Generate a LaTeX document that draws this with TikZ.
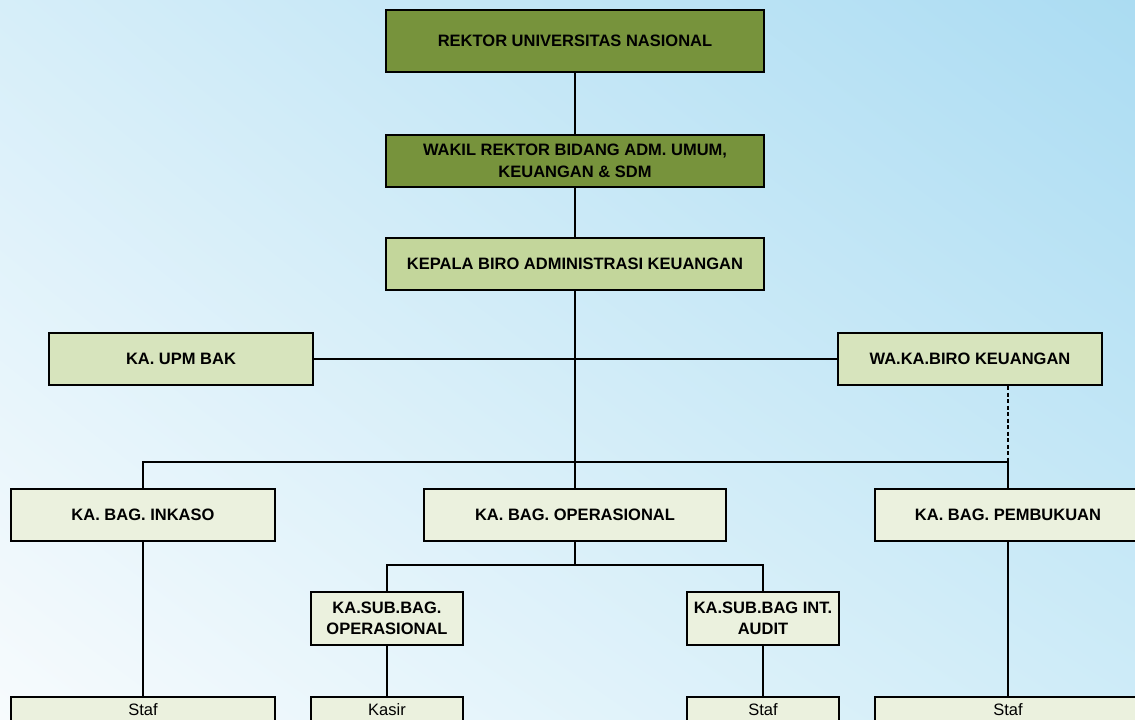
\documentclass[tikz,border=0pt]{standalone}
\usepackage{fontspec}
\setmainfont{Liberation Sans}
\usetikzlibrary{shadings}
\definecolor{olive}{HTML}{77933C}
\definecolor{midgreen}{HTML}{C3D69B}
\definecolor{lightgreen}{HTML}{D7E4BD}
\definecolor{palegreen}{HTML}{EBF1DE}
\definecolor{bgUL}{HTML}{D6EEF9}
\definecolor{bgUR}{HTML}{ABDCF2}
\definecolor{bgLL}{HTML}{F7FBFD}
\definecolor{bgLR}{HTML}{CFECF8}
\tikzset{
  box/.style={draw=black, line width=2pt, rectangle, align=center, inner sep=2pt,
    font=\fontsize{16.5}{21.5}\selectfont\bfseries},
  topbox/.style={box, fill=olive},
  midbox/.style={box, fill=midgreen},
  lightbox/.style={box, fill=lightgreen},
  palebox/.style={box, fill=palegreen},
  stafbox/.style={draw=black, line width=2pt, rectangle, fill=palegreen, anchor=north,
    inner xsep=2pt, inner ysep=4pt, text height=14pt, text depth=40pt,
    font=\fontsize{16.5}{20}\selectfont},
  conn/.style={draw=black, line width=2pt},
}
\begin{document}
\begin{tikzpicture}[x=1pt, y=-1pt]
\useasboundingbox (0,0) rectangle (1135,720);
\clip (0,0) rectangle (1135,720);
\shade[upper left=bgUL, upper right=bgUR, lower left=bgLL, lower right=bgLR] (0,0) rectangle (1135,720);

% nodes
\node[topbox, minimum width=378pt, minimum height=62pt] (rektor) at (575,41) {REKTOR UNIVERSITAS NASIONAL};
\node[topbox, minimum width=378pt, minimum height=52pt] (wakil) at (575,161) {WAKIL REKTOR BIDANG ADM. UMUM,\\KEUANGAN \& SDM};
\node[midbox, minimum width=378pt, minimum height=52pt] (kepala) at (575,264) {KEPALA BIRO ADMINISTRASI KEUANGAN};
\node[lightbox, minimum width=264pt, minimum height=52pt] (upm) at (181,359) {KA. UPM BAK};
\node[lightbox, minimum width=264pt, minimum height=52pt] (waka) at (970,359) {WA.KA.BIRO KEUANGAN};
\node[palebox, minimum width=264pt, minimum height=52pt] (inkaso) at (143,515) {KA. BAG. INKASO};
\node[palebox, minimum width=302pt, minimum height=52pt] (oper) at (575,515) {KA. BAG. OPERASIONAL};
\node[palebox, minimum width=266pt, minimum height=52pt] (pemb) at (1008,515) {KA. BAG. PEMBUKUAN};
\node[palebox, minimum width=152pt, minimum height=53pt] (subop) at (387,618.5) {KA.SUB.BAG.\\OPERASIONAL};
\node[palebox, minimum width=152pt, minimum height=53pt, inner xsep=0pt] (audit) at (763,618.5) {KA.SUB.BAG INT.\\AUDIT};
\node[stafbox, minimum width=264pt] (staf1) at (143,696) {Staf};
\node[stafbox, minimum width=152pt] (kasir) at (387,696) {Kasir};
\node[stafbox, minimum width=152pt] (staf2) at (763,696) {Staf};
\node[stafbox, minimum width=266pt] (staf3) at (1008,696) {Staf};

\coordinate (busR) at (1008,462);
\coordinate (subbus) at (575,565);

% connectors
\draw[conn] (rektor.south) -- (wakil.north);
\draw[conn] (wakil.south) -- (kepala.north);
\draw[conn] (kepala.south) -- (oper.north);
\draw[conn] (upm.east) -- (waka.west);
\draw[conn] (inkaso.north) |- (busR) -- (pemb.north);
\draw[conn, dash pattern=on 4pt off 2.5pt] (busR |- waka.south) -- (busR);
\draw[conn] (oper.south) -- (subbus);
\draw[conn] (subop.north) |- (subbus) -| (audit.north);
\draw[conn] (inkaso.south) -- (staf1.north);
\draw[conn] (subop.south) -- (kasir.north);
\draw[conn] (audit.south) -- (staf2.north);
\draw[conn] (pemb.south) -- (staf3.north);
\end{tikzpicture}
\end{document}
